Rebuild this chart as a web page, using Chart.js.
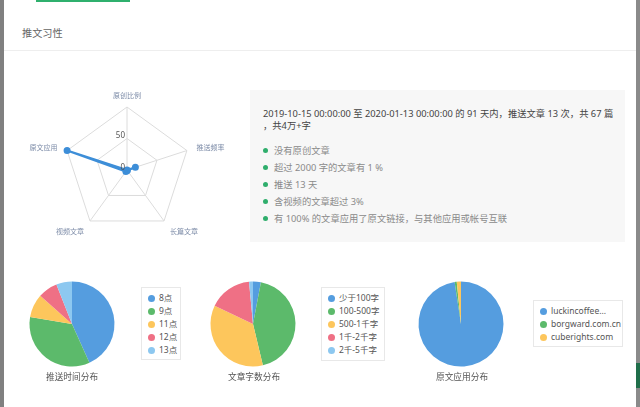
<!DOCTYPE html>
<html>
<head>
<meta charset="utf-8">
<script src="https://cdn.jsdelivr.net/npm/chart.js@4/dist/chart.umd.min.js"></script>
<style>
  body { margin: 0; width: 640px; height: 407px; overflow: hidden; background: #fff; position: relative;
         font-family: "Noto Sans", "Noto Sans CJK SC", sans-serif; }
  .abs { position: absolute; }
  .info { left: 250px; top: 90px; width: 375px; height: 152px; background: #f7f7f7; }
  .summary { left: 13px; top: 18px; font-size: 9.3px; line-height: 12.4px; color: #444; white-space: nowrap; }
  .bullet { left: 24px; font-size: 9.3px; line-height: 17px; color: #8a8a8a; white-space: nowrap; }
  .bullet::before { content: ""; position: absolute; left: -11px; top: 6px; width: 5px; height: 5px; border-radius: 50%; background: #2fae6c; }
  .legend { border: 1px solid #e8e8e8; background: #fff; box-sizing: border-box; padding: 3px 0 0 6px; }
  .legend div { font-size: 8.5px; line-height: 13px; color: #555; white-space: nowrap; }
  .legend span { display: inline-block; width: 7px; height: 7px; border-radius: 50%; margin-right: 4px; vertical-align: -0.5px; }
  .ptitle { top: 370px; font-size: 8.7px; color: #555; text-align: center; width: 120px; }
</style>
</head>
<body>
<div class="abs" style="left:0;top:0;width:4px;height:407px;background:#808080"></div>
<div class="abs" style="left:636px;top:0;width:4px;height:407px;background:#8a8a8a"></div>
<div class="abs" style="left:636px;top:363px;width:4px;height:25px;background:#1f6e4a"></div>
<div class="abs" style="left:36px;top:0;width:94px;height:2px;background:#2fb06d"></div>
<div class="abs" style="left:22px;top:25px;font-size:10.2px;color:#666">推文习性</div>
<div class="abs" style="left:4px;top:50px;width:632px;height:1px;background:#eeeeee"></div>

<canvas id="radar" class="abs" width="250" height="190" style="left:0;top:70px"></canvas>

<div class="abs info">
  <div class="abs summary">2019-10-15 00:00:00 至 2020-01-13 00:00:00 的 91 天内，推送文章 13 次，共 67 篇<br>，共4万+字</div>
  <div id="bullets"></div>
</div>

<canvas id="pieHour" class="abs" width="100" height="100" style="left:22px;top:274px"></canvas>
<canvas id="pieLength" class="abs" width="100" height="100" style="left:203px;top:274px"></canvas>
<canvas id="pieSource" class="abs" width="100" height="100" style="left:411px;top:274px"></canvas>

<div id="legHour" class="abs legend" style="left:141px;top:287px;width:40px;height:73px"></div>
<div id="legLength" class="abs legend" style="left:321px;top:287px;width:64px;height:74px"></div>
<div id="legSource" class="abs legend" style="left:533px;top:300px;width:90px;height:47px"></div>

<div class="abs ptitle" style="left:12px">推送时间分布</div>
<div class="abs ptitle" style="left:194px">文章字数分布</div>
<div class="abs ptitle" style="left:402px">原文应用分布</div>

<script>
// 数据
const radarLabels = ['原创比例', '推送频率', '长篇文章', '视频文章', '原文应用'];
const radarValues = [0, 14, 1, 3, 100];
const radarTickLabels = ['0', '50'];

const hourLabels = ['8点', '9点', '11点', '12点', '13点'];
const hourValues = [29, 23, 6, 5, 4];

const lengthLabels = ['少于100字', '100-500字', '500-1千字', '1千-2千字', '2千-5千字'];
const lengthValues = [2, 29, 24, 11, 1];

const sourceLabels = ['luckincoffee...', 'borgward.com.cn', 'cuberights.com'];
const sourceValues = [97.6, 0.8, 1.6];

const bulletTexts = [
  '没有原创文章',
  '超过 2000 字的文章有 1 %',
  '推送 13 天',
  '含视频的文章超过 3%',
  '有 100% 的文章应用了原文链接，与其他应用或帐号互联'
];

const pieColors = ['#559ddf', '#5cba6b', '#fdc65c', '#ef7085', '#8dc8f0'];

// 列表
const bl = document.getElementById('bullets');
bulletTexts.forEach((t, i) => {
  const d = document.createElement('div');
  d.className = 'abs bullet';
  d.style.top = (52 + i * 17) + 'px';
  d.textContent = t;
  bl.appendChild(d);
});

// 图例
function buildLegend(id, labels) {
  const box = document.getElementById(id);
  labels.forEach((l, i) => {
    const row = document.createElement('div');
    const dot = document.createElement('span');
    dot.style.background = pieColors[i];
    row.appendChild(dot);
    row.appendChild(document.createTextNode(l));
    box.appendChild(row);
  });
}
buildLegend('legHour', hourLabels);
buildLegend('legLength', lengthLabels);
buildLegend('legSource', sourceLabels);

// 雷达图的文字
const radarText = {
  id: 'radarText',
  afterDraw(chart) {
    const s = chart.scales.r;
    const ctx = chart.ctx;
    ctx.save();
    ctx.font = '7px "Noto Sans CJK SC"';
    ctx.fillStyle = '#7d8ca8';
    radarLabels.forEach((lab, i) => {
      const p = s.getPointPosition(i, s.drawingArea + 10);
      const dx = p.x - s.xCenter, dy = p.y - s.yCenter;
      ctx.textAlign = dx > 5 ? 'left' : (dx < -5 ? 'right' : 'center');
      let y = p.y;
      if (dy < -s.drawingArea * 0.9) { ctx.textBaseline = 'middle'; y = p.y - 2; }
      else if (dy > s.drawingArea * 0.5) { ctx.textBaseline = 'top'; y = p.y - 1; }
      else ctx.textBaseline = 'middle';
      ctx.fillText(lab, p.x, y);
    });
    ctx.font = '8px "Noto Sans"';
    ctx.fillStyle = '#555';
    ctx.textAlign = 'right';
    ctx.textBaseline = 'bottom';
    radarTickLabels.forEach(t => {
      const d = s.getDistanceFromCenterForValue(Number(t));
      ctx.fillText(t, s.xCenter - 2, s.yCenter - d + 1.5);
    });
    ctx.restore();
  }
};

new Chart(document.getElementById('radar'), {
  type: 'radar',
  data: {
    labels: radarLabels,
    datasets: [{
      data: radarValues,
      borderColor: '#3d8ed8',
      backgroundColor: '#3d8ed8',
      borderWidth: 2,
      pointRadius: 2.5,
      pointBackgroundColor: '#3d8ed8',
      fill: false
    }]
  },
  options: {
    responsive: false,
    animation: false,
    devicePixelRatio: 1,
    layout: { padding: { left: 64, right: 60, top: 37, bottom: 27 } },
    plugins: { legend: { display: false }, tooltip: { enabled: false } },
    scales: {
      r: {
        min: 0,
        max: 100,
        ticks: { display: false, stepSize: 50 },
        pointLabels: { display: false },
        grid: { color: '#dcdcdc', lineWidth: 1 },
        angleLines: { color: '#dcdcdc', lineWidth: 1 }
      }
    }
  },
  plugins: [radarText]
});

// 饼图
function makePie(id, labels, values) {
  new Chart(document.getElementById(id), {
    type: 'pie',
    data: {
      labels: labels,
      datasets: [{
        data: values,
        backgroundColor: pieColors.slice(0, values.length),
        borderWidth: 0,
        hoverOffset: 0,
        radius: 42.5
      }]
    },
    options: {
      responsive: false,
      animation: false,
      devicePixelRatio: 1,
      plugins: { legend: { display: false }, tooltip: { enabled: false } }
    }
  });
}
makePie('pieHour', hourLabels, hourValues);
makePie('pieLength', lengthLabels, lengthValues);
makePie('pieSource', sourceLabels, sourceValues);
</script>
</body>
</html>
